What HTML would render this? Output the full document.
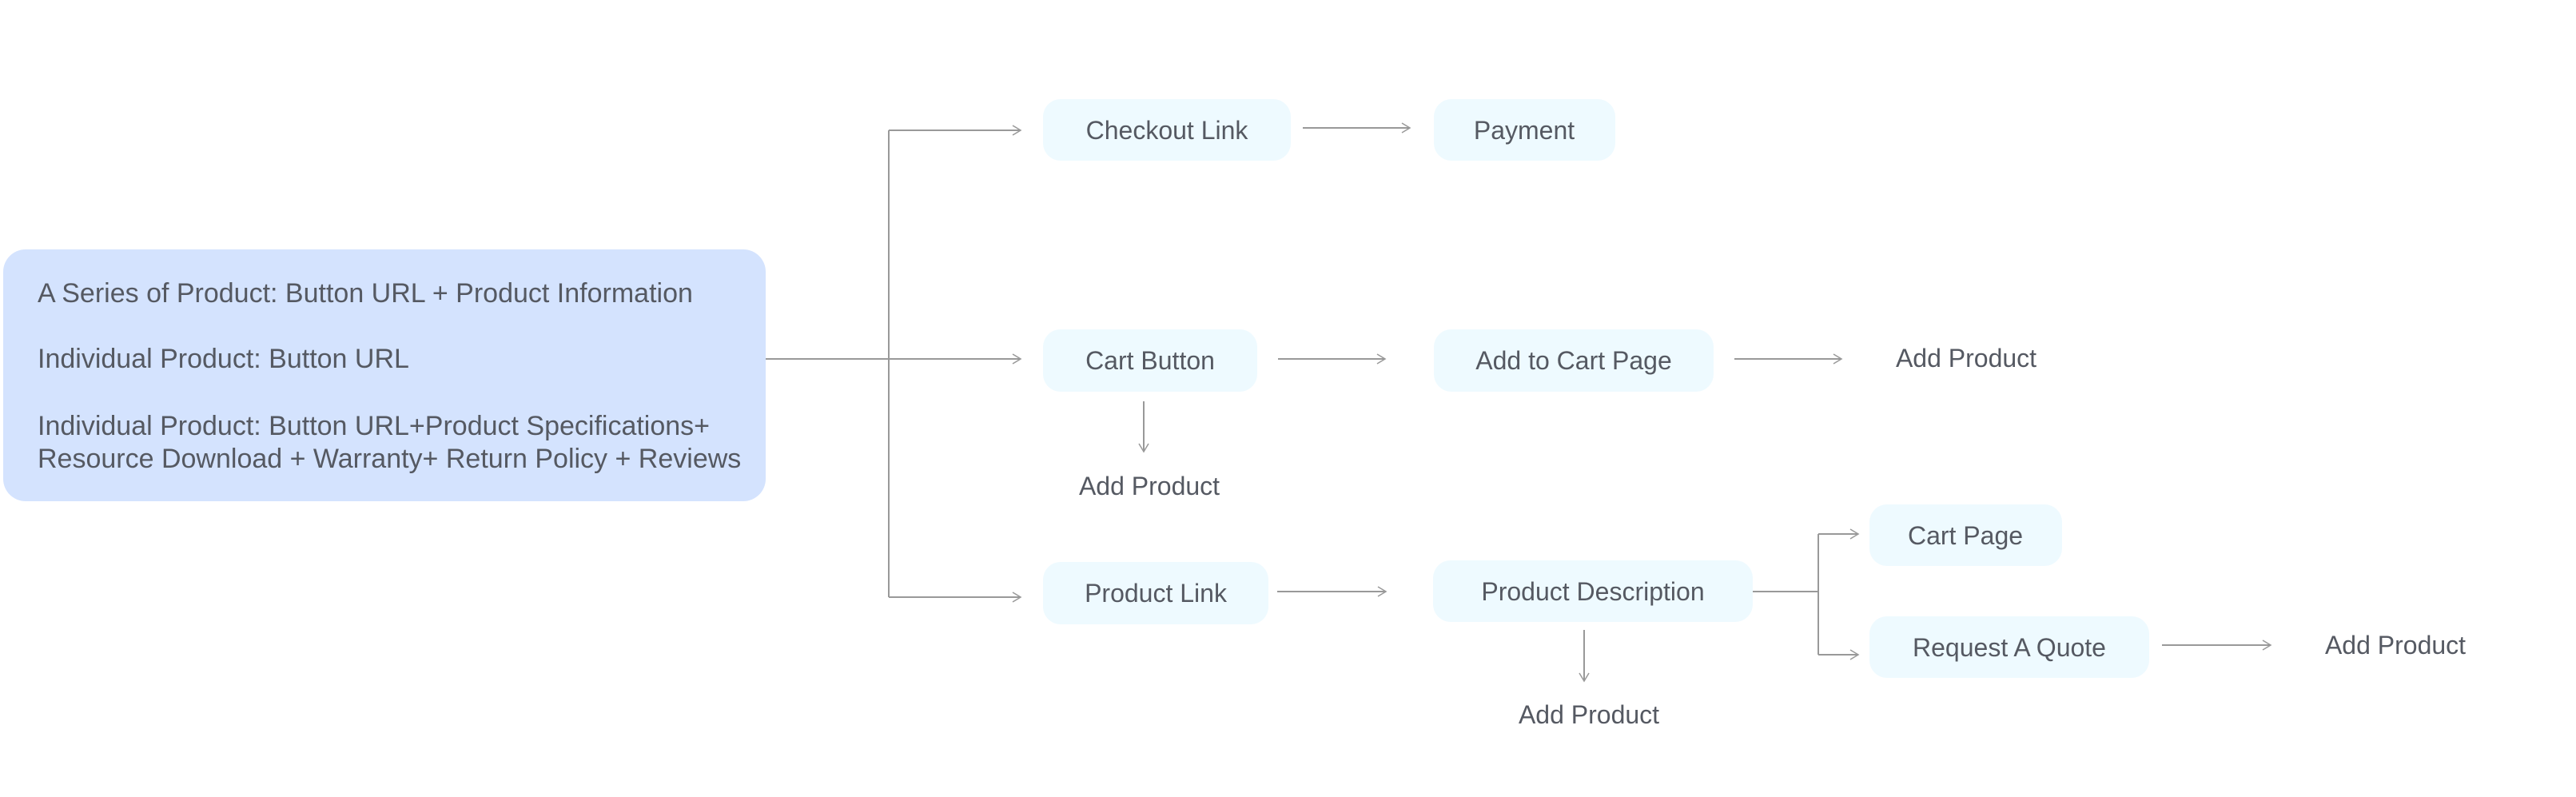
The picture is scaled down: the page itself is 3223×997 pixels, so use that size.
<!DOCTYPE html>
<html><head><meta charset="utf-8"><style>
html,body{margin:0;padding:0;background:#fff}
svg{display:block}
text{font-family:"Liberation Sans",sans-serif;font-size:32px;fill:#555962}
.big{font-size:34px}
</style></head><body>
<svg width="3223" height="997" viewBox="0 0 3223 997" xmlns="http://www.w3.org/2000/svg">
<defs>
<marker id="a" markerWidth="14" markerHeight="14" refX="12" refY="7" orient="auto" markerUnits="userSpaceOnUse">
<path d="M2,1 L12,7 L2,13" fill="none" stroke="#999" stroke-width="1.5"/>
</marker>
</defs>
<rect x="0" y="0" width="3223" height="997" fill="#fff"/>
<rect x="4" y="312" width="954" height="315" rx="28" fill="#d4e3fe"/>
<text class="big" x="47" y="378">A Series of Product: Button URL + Product Information</text>
<text class="big" x="47" y="460">Individual Product: Button URL</text>
<text class="big" x="47" y="544">Individual Product: Button URL+Product Specifications+</text>
<text class="big" x="47" y="585">Resource Download + Warranty+ Return Policy + Reviews</text>

<g fill="none" stroke="#999" stroke-width="2">
<path d="M958,449 H1277" marker-end="url(#a)"/>
<path d="M1112,163 V747"/>
<path d="M1112,163 H1277" marker-end="url(#a)"/>
<path d="M1112,747 H1277" marker-end="url(#a)"/>
<path d="M1630,160 H1764" marker-end="url(#a)"/>
<path d="M1599,449 H1733" marker-end="url(#a)"/>
<path d="M2170,449 H2304" marker-end="url(#a)"/>
<path d="M1431,502 V565" marker-end="url(#a)"/>
<path d="M1598,740 H1734" marker-end="url(#a)"/>
<path d="M2193,740 H2275"/>
<path d="M2275,668 V819"/>
<path d="M2275,668 H2325" marker-end="url(#a)"/>
<path d="M2275,819 H2325" marker-end="url(#a)"/>
<path d="M2705,807 H2841" marker-end="url(#a)"/>
<path d="M1982,788 V852" marker-end="url(#a)"/>
</g>

<g fill="#eefaff">
<rect x="1305" y="124" width="310" height="77" rx="22"/>
<rect x="1794" y="124" width="227" height="77" rx="22"/>
<rect x="1305" y="412" width="268" height="78" rx="22"/>
<rect x="1794" y="412" width="350" height="78" rx="22"/>
<rect x="1305" y="703" width="282" height="78" rx="22"/>
<rect x="1793" y="701" width="400" height="77" rx="22"/>
<rect x="2339" y="631" width="241" height="77" rx="22"/>
<rect x="2339" y="771" width="350" height="77" rx="22"/>
</g>
<g text-anchor="middle">
<text x="1460" y="174">Checkout Link</text>
<text x="1907" y="174">Payment</text>
<text x="1439" y="462">Cart Button</text>
<text x="1969" y="462">Add to Cart Page</text>
<text x="1446" y="753">Product Link</text>
<text x="1993" y="751">Product Description</text>
<text x="2459" y="681">Cart Page</text>
<text x="2514" y="821">Request A Quote</text>
<text x="2460" y="459">Add Product</text>
<text x="1438" y="619">Add Product</text>
<text x="2997" y="818">Add Product</text>
<text x="1988" y="905">Add Product</text>
</g>
</svg>
</body></html>
